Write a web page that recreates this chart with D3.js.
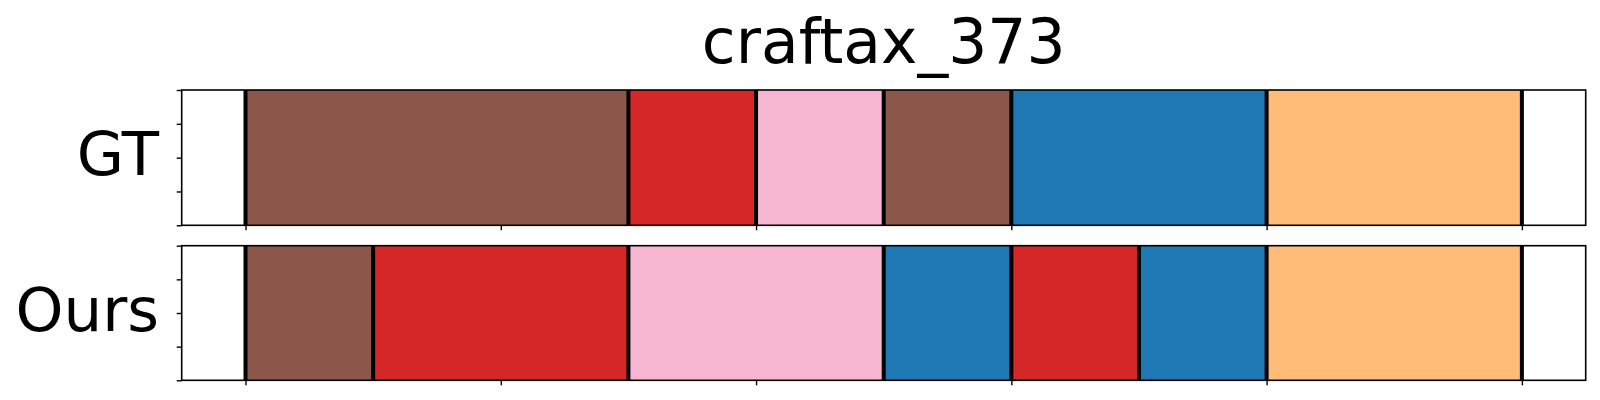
<!DOCTYPE html>
<html>
<head>
<meta charset="utf-8">
<script src="https://cdn.jsdelivr.net/npm/d3@7"></script>
<style>
  html, body { margin: 0; padding: 0; background: #fff; }
  svg { display: block; }
  text { font-family: "DejaVu Sans", sans-serif; fill: #000; }
</style>
</head>
<body>
<div id="chart"></div>
<script>
// ---- data ----
const title = "craftax_373";
const rowNames = ["GT", "Ours"];
const xTicks = [0, 20, 40, 60, 80, 100];
const yTicks = [0, 0.25, 0.5, 0.75, 1];
const gtBounds = [0, 30, 40, 50, 60, 80, 100];
const gtClasses = [10, 6, 13, 10, 0, 3];
const oursBounds = [0, 10, 30, 50, 60, 70, 80, 100];
const oursClasses = [10, 6, 13, 0, 6, 0, 3];
const tab20 = ["#1f77b4","#aec7e8","#ff7f0e","#ffbb78","#2ca02c","#98df8a","#d62728","#ff9896",
               "#9467bd","#c5b0d5","#8c564b","#c49c94","#e377c2","#f7b6d2","#7f7f7f","#c7c7c7",
               "#bcbd22","#dbdb8d","#17becf","#9edae5"];

const rows = [
  { name: rowNames[0], bounds: gtBounds, classes: gtClasses },
  { name: rowNames[1], bounds: oursBounds, classes: oursClasses }
];

// ---- layout ----
const W = 1600, H = 400;
const axLeft = 181.7, axRight = 1585.7;
const panels = [ { top: 90, bottom: 225.3 }, { top: 245.7, bottom: 380.3 } ];

const svg = d3.select("#chart").append("svg").attr("width", W).attr("height", H);

const x = d3.scaleLinear().domain([-5, 105]).range([axLeft, axRight]);

rows.forEach((row, i) => {
  const p = panels[i];
  const y = d3.scaleLinear().domain([0, 1]).range([p.bottom, p.top]);
  const g = svg.append("g");

  const segs = row.classes.map((c, j) => ({ x0: row.bounds[j], x1: row.bounds[j + 1], c }));
  g.selectAll("rect.seg").data(segs).join("rect")
    .attr("class", "seg")
    .attr("x", d => x(d.x0))
    .attr("width", d => x(d.x1) - x(d.x0))
    .attr("y", y(1))
    .attr("height", y(0) - y(1))
    .attr("fill", d => tab20[d.c]);

  g.selectAll("line.bnd").data(row.bounds).join("line")
    .attr("class", "bnd")
    .attr("x1", d => x(d)).attr("x2", d => x(d))
    .attr("y1", y(1)).attr("y2", y(0))
    .attr("stroke", "#000").attr("stroke-width", 4);

  // spines
  g.append("rect")
    .attr("x", axLeft).attr("y", p.top)
    .attr("width", axRight - axLeft).attr("height", p.bottom - p.top)
    .attr("fill", "none").attr("stroke", "#000").attr("stroke-width", 1.6);

  // axes ticks, no labels
  const ya = g.append("g").attr("transform", `translate(${axLeft},0)`)
    .call(d3.axisLeft(y).tickValues(yTicks).tickFormat("").tickSize(5).tickSizeOuter(0));
  ya.select(".domain").remove();
  ya.selectAll(".tick line").attr("stroke-width", 1.4);

  const xa = g.append("g").attr("transform", `translate(0,${p.bottom})`)
    .call(d3.axisBottom(x).tickValues(xTicks).tickFormat("").tickSize(5).tickSizeOuter(0));
  xa.select(".domain").remove();
  xa.selectAll(".tick line").attr("stroke-width", 1.4);

  // row label
  svg.append("text")
    .attr("x", 159)
    .attr("y", (p.top + p.bottom) / 2 + 17.5)
    .attr("text-anchor", "end")
    .attr("font-size", 61)
    .text(row.name);
});

svg.append("text")
  .attr("x", (axLeft + axRight) / 2)
  .attr("y", 62.7)
  .attr("text-anchor", "middle")
  .attr("font-size", 61.5)
  .text(title);
</script>
</body>
</html>
